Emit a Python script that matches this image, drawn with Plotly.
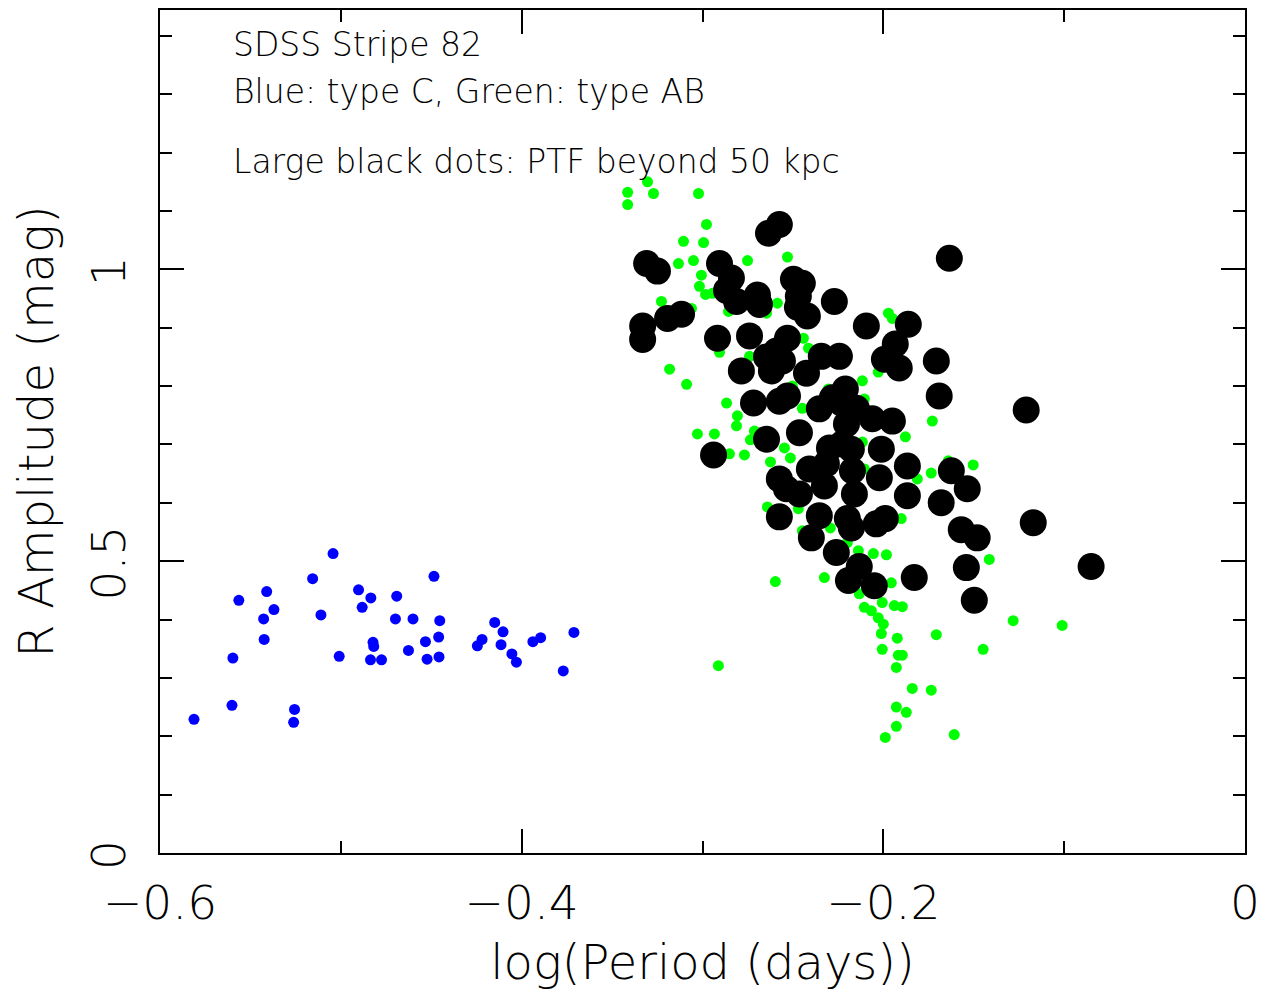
import plotly.graph_objects as go

# ---------------------------------------------------------------------------
# Data (log period in days, R amplitude in mag)
# ---------------------------------------------------------------------------

blue_logp = [-0.5043, -0.5156, -0.4485, -0.5410, -0.5564, -0.4902, -0.4834, -0.4691,
             -0.5370, -0.5427, -0.5110, -0.4882, -0.4698, -0.4601, -0.4453, -0.4149,
             -0.4103, -0.3711, -0.3895, -0.3938, -0.5424, -0.4822, -0.4818, -0.4532,
             -0.4459, -0.4219, -0.4245, -0.4114, -0.4054, -0.4029, -0.4626, -0.5597,
             -0.5009, -0.4836, -0.4775, -0.4523, -0.4457, -0.3770, -0.5602, -0.5256,
             -0.5812, -0.5261]
blue_amp = [0.513, 0.470, 0.474, 0.448, 0.433, 0.451, 0.437, 0.440,
            0.417, 0.401, 0.408, 0.421, 0.401, 0.401, 0.398, 0.395,
            0.379, 0.378, 0.369, 0.362, 0.366, 0.361, 0.354, 0.362,
            0.370, 0.366, 0.355, 0.357, 0.341, 0.327, 0.347, 0.334,
            0.337, 0.331, 0.331, 0.332, 0.336, 0.312, 0.253, 0.246,
            0.229, 0.224]

green_logp = [-0.3304, -0.3414, -0.3271, -0.3414, -0.3022, -0.2978, -0.3105, -0.2994,
              -0.3133, -0.3050, -0.2751, -0.2530, -0.3006, -0.3017, -0.2983, -0.2945,
              -0.3227, -0.2586, -0.3061, -0.2856, -0.2646, -0.1972, -0.1950, -0.2442,
              -0.2414, -0.2906, -0.2740, -0.3182, -0.3088, -0.2028, -0.2116, -0.2304,
              -0.2503, -0.2105, -0.2867, -0.2807, -0.2448, -0.1729, -0.2812, -0.3028,
              -0.2934, -0.2713, -0.2735, -0.2851, -0.2768, -0.2547, -0.2514, -0.2624,
              -0.1878, -0.2116, -0.2105, -0.1735, -0.1812, -0.1641, -0.1503, -0.2641,
              -0.2470, -0.1901, -0.2448, -0.2293, -0.2199, -0.2138, -0.2055, -0.1983,
              -0.1414, -0.2597, -0.2326, -0.1956, -0.2133, -0.2006, -0.1939, -0.1895,
              -0.2105, -0.2066, -0.2028, -0.2000, -0.2011, -0.1923, -0.1707, -0.2006,
              -0.1917, -0.1895, -0.1928, -0.1840, -0.1735, -0.1448, -0.1282, -0.1011,
              -0.1928, -0.1873, -0.1928, -0.1989, -0.1608, -0.2912]
green_amp = [1.150, 1.132, 1.130, 1.111, 1.130, 1.077, 1.048, 1.046,
             1.010, 1.015, 1.015, 1.021, 0.990, 0.971, 0.957, 0.959,
             0.945, 0.942, 0.933, 0.928, 0.925, 0.925, 0.916, 0.882,
             0.865, 0.858, 0.851, 0.829, 0.803, 0.824, 0.809, 0.795,
             0.800, 0.778, 0.771, 0.749, 0.762, 0.740, 0.732, 0.718,
             0.718, 0.723, 0.708, 0.684, 0.682, 0.694, 0.677, 0.670,
             0.713, 0.704, 0.658, 0.651, 0.641, 0.672, 0.665, 0.593,
             0.590, 0.573, 0.552, 0.557, 0.532, 0.518, 0.513, 0.511,
             0.503, 0.465, 0.472, 0.463, 0.444, 0.429, 0.424, 0.422,
             0.421, 0.415, 0.403, 0.392, 0.376, 0.368, 0.374, 0.349,
             0.339, 0.339, 0.318, 0.282, 0.279, 0.349, 0.398, 0.390,
             0.250, 0.241, 0.217, 0.198, 0.203, 0.321]

ptf_logp = [-0.2575, -0.2635, -0.3309, -0.3249, -0.1635, -0.2906, -0.2840, -0.2867,
            -0.2812, -0.2696, -0.2685, -0.2497, -0.2448, -0.2470, -0.2475, -0.2420,
            -0.2271, -0.3331, -0.3331, -0.3193, -0.3116, -0.2917, -0.2740, -0.2530,
            -0.2591, -0.2646, -0.2558, -0.2785, -0.2619, -0.2425, -0.2343, -0.2243,
            -0.2094, -0.1862, -0.1934, -0.1994, -0.1912, -0.1707, -0.1691, -0.1210,
            -0.2718, -0.2575, -0.2530, -0.2210, -0.2282, -0.2354, -0.2232, -0.2149,
            -0.2061, -0.1950, -0.2646, -0.2939, -0.2298, -0.2227, -0.2204, -0.2464,
            -0.2177, -0.2011, -0.2171, -0.2315, -0.2409, -0.1867, -0.2022, -0.2575,
            -0.2536, -0.2464, -0.2326, -0.2160, -0.1867, -0.1624, -0.1536, -0.1680,
            -0.2575, -0.2354, -0.2199, -0.2177, -0.2039, -0.1989, -0.2398, -0.1569,
            -0.1481, -0.1171, -0.2260, -0.2133, -0.2193, -0.2050, -0.1829, -0.1541,
            -0.0851, -0.1497]
ptf_amp = [1.077, 1.062, 1.010, 0.997, 1.019, 1.010, 0.985, 0.964,
           0.945, 0.956, 0.940, 0.983, 0.976, 0.954, 0.935, 0.920,
           0.945, 0.903, 0.880, 0.916, 0.923, 0.882, 0.886, 0.882,
           0.860, 0.850, 0.843, 0.826, 0.826, 0.822, 0.851, 0.851,
           0.903, 0.906, 0.872, 0.846, 0.831, 0.843, 0.783, 0.759,
           0.771, 0.774, 0.783, 0.795, 0.780, 0.761, 0.771, 0.762,
           0.744, 0.740, 0.709, 0.682, 0.694, 0.701, 0.735, 0.720,
           0.692, 0.692, 0.655, 0.667, 0.658, 0.663, 0.643, 0.641,
           0.624, 0.615, 0.629, 0.615, 0.612, 0.655, 0.624, 0.600,
           0.576, 0.578, 0.573, 0.557, 0.564, 0.573, 0.540, 0.554,
           0.540, 0.566, 0.515, 0.491, 0.467, 0.458, 0.472, 0.489,
           0.491, 0.433]

notes = ["SDSS Stripe 82",
         "Blue: type C, Green: type AB",
         "Large black dots: PTF beyond 50 kpc"]
notes_y = [1.385, 1.304, 1.185]

FONT = "DejaVu Sans"

fig = go.Figure()
fig.add_trace(go.Scatter(x=blue_logp, y=blue_amp, mode="markers",
                         marker=dict(color="#0000ff", size=11, line=dict(width=0))))
fig.add_trace(go.Scatter(x=green_logp, y=green_amp, mode="markers",
                         marker=dict(color="#00ff00", size=11, line=dict(width=0))))
fig.add_trace(go.Scatter(x=ptf_logp, y=ptf_amp, mode="markers",
                         marker=dict(color="#000000", size=27, line=dict(width=0))))

for txt, yy in zip(notes, notes_y):
    fig.add_annotation(x=0.065, y=yy, xref="paper", yref="y", text=txt,
                       showarrow=False, xanchor="left", yanchor="middle",
                       font=dict(family=FONT, size=33, color="black", weight=200))

axis_common = dict(
    showgrid=False, zeroline=False,
    showline=True, linecolor="black", linewidth=2, mirror="allticks",
    ticks="inside", ticklen=24, tickwidth=1.5, tickcolor="black",
    tickfont=dict(family=FONT, size=47, color="black", weight=200),
)
minor_ticks = dict(dtick=0.1, tick0=0, ticks="inside", ticklen=12,
                   tickwidth=1.5, tickcolor="black")

# the page adds an 8px body margin, so the figure is sized to fit inside it
fig.update_layout(
    width=1266, height=988,
    paper_bgcolor="white", plot_bgcolor="white",
    showlegend=False,
    margin=dict(l=152, r=29, t=0, b=143),
    xaxis=dict(range=[-0.6, 0], tickvals=[-0.6, -0.4, -0.2, 0],
               ticktext=["\u22120.6", "\u22120.4", "\u22120.2", "0"],
               minor=minor_ticks, ticklabelstandoff=8,
               title=dict(text="log(Period (days))", standoff=16,
                          font=dict(family=FONT, size=48, color="black", weight=200)),
               **axis_common),
    yaxis=dict(range=[0, 1.4444], tickvals=[0, 0.5, 1], ticktext=["0", "0.5", "1"],
               tickangle=-90, minor=minor_ticks, ticklabelstandoff=14,
               ticklabelshift=9,
               title=dict(text="R Amplitude (mag)", standoff=12,
                          font=dict(family=FONT, size=48, color="black", weight=200)),
               **axis_common),
)

fig.write_html("out.html")
